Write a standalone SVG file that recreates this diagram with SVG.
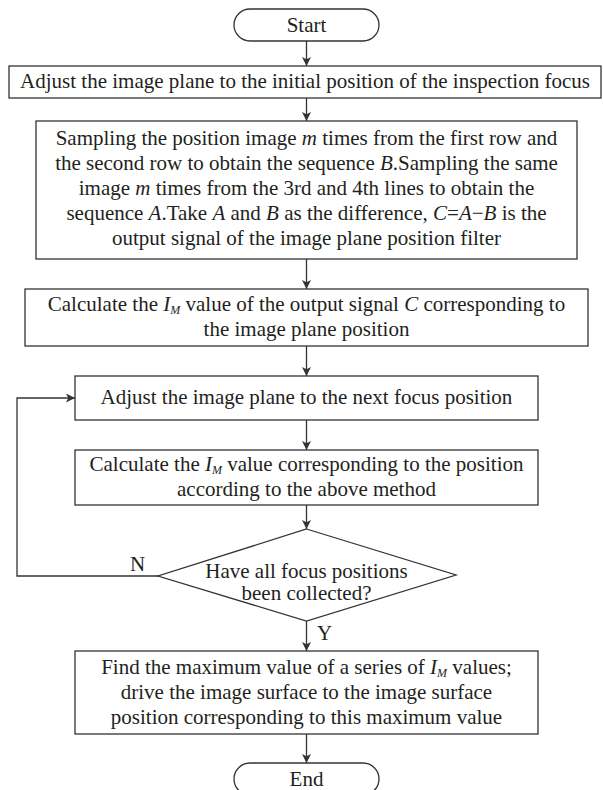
<svg xmlns="http://www.w3.org/2000/svg" width="603" height="790" viewBox="0 0 603 790">
<defs>
<style>
.box{fill:#fff;stroke:#333;stroke-width:1.3}
.t{font-family:"Liberation Serif","Times New Roman",serif;font-size:21px;fill:#231f20;text-anchor:middle}
.i{font-style:italic}
.sub{font-style:italic;font-size:12px}
.c{fill:none;stroke:#333;stroke-width:1.3}
.lbl{font-family:"Liberation Serif","Times New Roman",serif;font-size:21px;fill:#231f20}
</style>
<marker id="ah" viewBox="0 0 10 10" refX="10" refY="5" markerWidth="9" markerHeight="9" markerUnits="userSpaceOnUse" orient="auto">
<path d="M0,0 L10,5 L0,10 L2.5,5 Z" fill="#333"/>
</marker>
</defs>
<rect width="603" height="790" fill="#fff"/>

<g id="connectors">
<line class="c" x1="306.5" y1="41" x2="306.5" y2="66" marker-end="url(#ah)"/>
<line class="c" x1="306.5" y1="98" x2="306.5" y2="121" marker-end="url(#ah)"/>
<line class="c" x1="306.5" y1="259" x2="306.5" y2="289" marker-end="url(#ah)"/>
<line class="c" x1="306.5" y1="346" x2="306.5" y2="376" marker-end="url(#ah)"/>
<line class="c" x1="306.5" y1="420" x2="306.5" y2="450" marker-end="url(#ah)"/>
<line class="c" x1="306.5" y1="505" x2="306.5" y2="529" marker-end="url(#ah)"/>
<line class="c" x1="306.5" y1="621" x2="306.5" y2="651" marker-end="url(#ah)"/>
<line class="c" x1="306.5" y1="734" x2="306.5" y2="763" marker-end="url(#ah)"/>
<polyline class="c" points="158,576 17,576 17,398 75,398" marker-end="url(#ah)"/>
<text class="lbl" x="130" y="571">N</text>
<text class="lbl" x="317" y="640">Y</text>
</g>

<g id="start">
<rect class="box" x="234" y="9" width="145" height="32" rx="16" ry="16"/>
<text class="t" x="306.5" y="32">Start</text>
</g>

<g id="adjust-initial">
<rect class="box" x="9" y="66" width="592" height="32"/>
<text class="t" x="305" y="88">Adjust the image plane to the initial position of the inspection focus</text>
</g>

<g id="sampling">
<rect class="box" x="36" y="121" width="541" height="138"/>
<text class="t" x="306.5" y="145">Sampling the position image <tspan class="i">m</tspan> times from the first row and</text>
<text class="t" x="306.5" y="170">the second row to obtain the sequence <tspan class="i">B</tspan>.Sampling the same</text>
<text class="t" x="306.5" y="195">image <tspan class="i">m</tspan> times from the 3rd and 4th lines to obtain the</text>
<text class="t" x="306.5" y="220">sequence <tspan class="i">A</tspan>.Take <tspan class="i">A</tspan> and <tspan class="i">B</tspan> as the difference, <tspan class="i">C</tspan>=<tspan class="i">A</tspan>−<tspan class="i">B</tspan> is the</text>
<text class="t" x="306.5" y="245">output signal of the image plane position filter</text>
</g>

<g id="calc-output">
<rect class="box" x="25" y="289" width="563" height="57"/>
<text class="t" x="306.5" y="311">Calculate the <tspan class="i">I</tspan><tspan class="sub" dy="3">M</tspan><tspan dy="-3"> value of the output signal </tspan><tspan class="i">C</tspan> corresponding to</text>
<text class="t" x="306.5" y="336">the image plane position</text>
</g>

<g id="adjust-next">
<rect class="box" x="75" y="376" width="463" height="44"/>
<text class="t" x="306.5" y="404">Adjust the image plane to the next focus position</text>
</g>

<g id="calc-position">
<rect class="box" x="75" y="450" width="463" height="55"/>
<text class="t" x="306.5" y="471">Calculate the <tspan class="i">I</tspan><tspan class="sub" dy="3">M</tspan><tspan dy="-3"> value corresponding to the position</tspan></text>
<text class="t" x="306.5" y="496">according to the above method</text>
</g>

<g id="decision">
<polygon class="box" points="306.5,529 456,575 306.5,621 158,576"/>
<text class="t" x="306.5" y="578">Have all focus positions</text>
<text class="t" x="306.5" y="600">been collected?</text>
</g>

<g id="find-max">
<rect class="box" x="75" y="651" width="463" height="83"/>
<text class="t" x="306.5" y="674">Find the maximum value of a series of <tspan class="i">I</tspan><tspan class="sub" dy="3">M</tspan><tspan dy="-3"> values;</tspan></text>
<text class="t" x="306.5" y="699">drive the image surface to the image surface</text>
<text class="t" x="306.5" y="724">position corresponding to this maximum value</text>
</g>

<g id="end">
<rect class="box" x="234" y="763" width="145" height="32" rx="16" ry="16"/>
<text class="t" x="306.5" y="786">End</text>
</g>
</svg>
